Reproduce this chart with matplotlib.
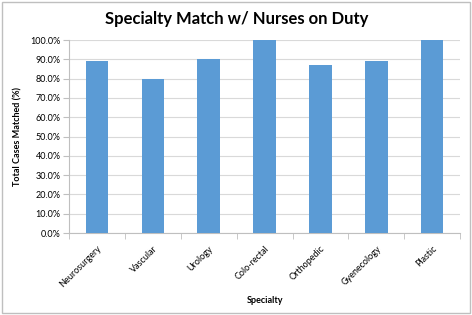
import matplotlib.pyplot as plt
from matplotlib.patches import Rectangle
import numpy as np

specialties = ["Neurosurgery", "Vascular", "Urology", "Colo-rectal",
               "Orthopedic", "Gyenecology", "Plastic"]
matched_pct = [89, 80, 90, 100, 87, 89, 100]
yticks = list(range(0, 101, 10))

plt.rcParams["font.family"] = ["Lato", "DejaVu Sans"]

fig = plt.figure(figsize=(4.72, 3.15), dpi=100)
ax = fig.add_axes([0.146, 0.26, 0.829, 0.613])

x = np.arange(len(specialties))
ax.bar(x, matched_pct, width=0.4, color="#5B9BD5", zorder=3)

ax.set_xlim(-0.5, len(specialties) - 0.5)
ax.set_ylim(0, 100)
ax.set_yticks(yticks)
ax.set_yticklabels([f"{v:.1f}%" for v in yticks], fontsize=6.5)
ax.set_xticks(x)
ax.set_xticklabels(specialties, rotation=45, ha="right", rotation_mode="anchor", fontsize=6.5)
ax.tick_params(axis="x", length=0, pad=8)
ax.set_xticks(np.arange(-0.5, len(specialties)), minor=True)
ax.tick_params(axis="x", which="minor", length=4, color="#BFBFBF")
ax.tick_params(axis="y", length=4, color="#BFBFBF", pad=2)

ax.grid(axis="y", color="#D9D9D9", linewidth=0.8, zorder=0)
for side in ["top", "right"]:
    ax.spines[side].set_visible(False)
for side in ["left", "bottom"]:
    ax.spines[side].set_color("#BFBFBF")

ax.set_xlabel("Specialty", fontsize=6.5, fontweight="bold", labelpad=5)
ax.set_ylabel("Total Cases Matched (%)", fontsize=6.5, fontweight="bold", labelpad=6)
fig.text(0.502, 0.94, "Specialty Match w/ Nurses on Duty", ha="center", va="center",
         fontsize=12, fontweight="bold")

fig.patches.append(Rectangle((0.004, 0.006), 0.992, 0.988, transform=fig.transFigure,
                             fill=False, edgecolor="#BFBFBF", linewidth=1))

fig.savefig("out.png", dpi=100)
